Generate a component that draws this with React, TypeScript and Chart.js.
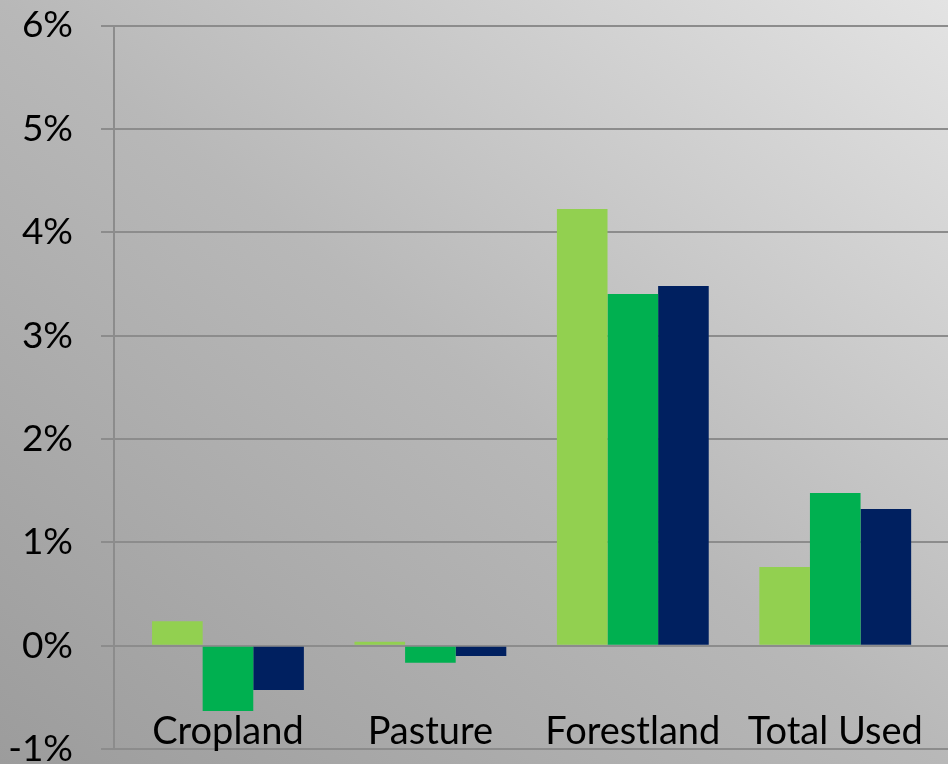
import React, { useEffect, useRef } from "react";
import { Chart, registerables } from "chart.js";

Chart.register(...registerables);

// Land-use categories along the horizontal axis
const CATEGORIES = ["Cropland", "Pasture", "Forestland", "Total Used"];

// Percentage change for each of the three periods
const PERIOD_1 = [0.237, 0.037, 4.224, 0.76];
const PERIOD_2 = [-0.633, -0.166, 3.402, 1.476];
const PERIOD_3 = [-0.43, -0.099, 3.479, 1.321];

const SERIES_NAMES = ["Period 1", "Period 2", "Period 3"];
const SERIES_COLORS = ["#92d050", "#00b050", "#002060"];

// Value-axis range and step (percent)
const Y_MIN = -1;
const Y_MAX = 6;
const Y_STEP = 1;

const FONT = "Lato, 'Open Sans', sans-serif";
const GRID = "#8c8c8c";

export default function App() {
  const canvasRef = useRef<HTMLCanvasElement | null>(null);

  useEffect(() => {
    const canvas = canvasRef.current;
    if (!canvas) return;
    let chart: Chart | null = null;
    let cancelled = false;

    const build = () => {
      if (cancelled) return;
      const seriesValues = [PERIOD_1, PERIOD_2, PERIOD_3];
      const datasets = seriesValues.map((vals, s) => ({
        label: SERIES_NAMES[s],
        data: vals.map((v, i) => ({ x: i, y: v })),
        backgroundColor: SERIES_COLORS[s],
        borderWidth: 0,
        barPercentage: 1,
        categoryPercentage: 0.75,
      }));

      chart = new Chart(canvas, {
        type: "bar",
        data: { datasets },
        options: {
          animation: false,
          responsive: true,
          maintainAspectRatio: false,
          layout: { padding: { top: 25.5, right: 0, bottom: 0, left: 0 } },
          plugins: {
            legend: { display: false },
            tooltip: { enabled: false },
          },
          scales: {
            x: {
              type: "linear",
              offset: false,
              min: -0.563,
              max: 3.557,
              afterBuildTicks: (scale: any) => {
                scale.ticks = CATEGORIES.map((_, i) => ({ value: i }));
              },
              afterFit: (scale: any) => {
                scale.height = 15;
                scale.paddingLeft = 0;
                scale.paddingRight = 0;
              },
              grid: { display: false, drawTicks: false, offset: false },
              border: { display: false },
              ticks: {
                autoSkip: false,
                maxRotation: 0,
                // category names sit just above the bottom gridline
                mirror: true,
                padding: -5.8,
                color: "#000",
                font: { family: FONT, size: 38 },
                callback: (v: any) => CATEGORIES[Number(v)] ?? "",
              },
            },
            y: {
              min: Y_MIN,
              max: Y_MAX,
              afterFit: (scale: any) => {
                scale.width = 114;
                scale.paddingTop = 0;
                scale.paddingBottom = 0;
              },
              grid: {
                color: GRID,
                lineWidth: 2,
                drawTicks: true,
                tickLength: 13,
              },
              border: { display: true, color: GRID, width: 2 },
              ticks: {
                stepSize: Y_STEP,
                padding: 28,
                color: "#000",
                font: { family: FONT, size: 37 },
                callback: (v: any) => `${v}%`,
              },
            },
          },
        },
      });
    };

    const fonts = (document as any).fonts;
    if (fonts && fonts.load) {
      Promise.all([fonts.load("37px Lato"), fonts.load("38px Lato")])
        .catch(() => undefined)
        .then(build);
    } else {
      build();
    }

    return () => {
      cancelled = true;
      if (chart) chart.destroy();
    };
  }, []);

  return (
    <div
      style={{
        position: "fixed",
        left: 0,
        top: 0,
        width: 948,
        height: 764,
        background: "linear-gradient(to top right, #9c9c9c 0%, #b8b8b8 50%, #e3e3e3 100%)",
      }}
    >
      <canvas ref={canvasRef} />
    </div>
  );
}
